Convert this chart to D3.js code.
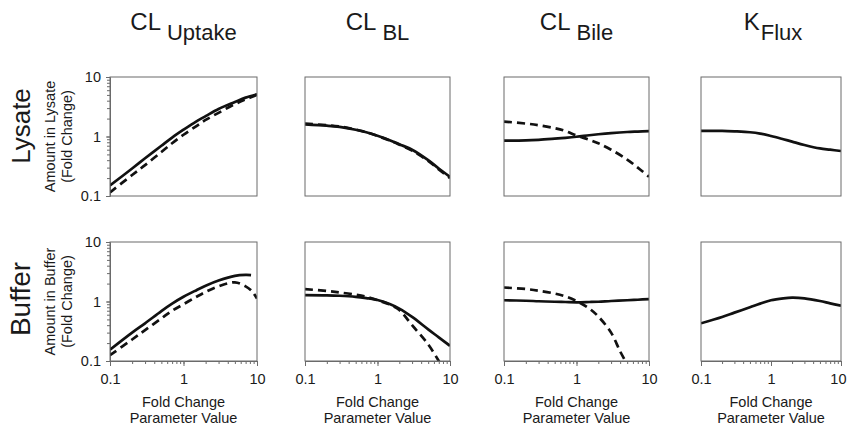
<!DOCTYPE html>
<html>
<head>
<meta charset="utf-8">
<script src="https://cdn.jsdelivr.net/npm/d3@7"></script>
<style>
body { margin: 0; background: #fff; }
svg text { font-family: "Liberation Sans", Arial, Helvetica, sans-serif; fill: #1a1a1a; }
.frame { fill: none; stroke: #6b6b6b; stroke-width: 1; }
.curve { fill: none; stroke: #111; stroke-width: 2.7; }
.dashed { stroke-dasharray: 8 5; }
.axis path, .axis line { stroke: #6b6b6b; }
</style>
</head>
<body>
<div id="chart"></div>
<script>
// column / row labels
var paramMain = ["CL", "CL", "CL", "K"];
var paramSub = ["Uptake", "BL", "Bile", "Flux"];
var rowNames = ["Lysate", "Buffer"];
var yTitles = ["Amount in Lysate", "Amount in Buffer"];
var tickMajor = [0.1, 1, 10];

// common x grid (fold change of parameter)
var xGrid = [0.1, 0.2, 0.3, 0.5, 0.7, 1, 1.5, 2, 3, 5, 7, 10];

// Lysate row
var lysUptakeSolid  = [0.15, 0.29, 0.43, 0.70, 0.96, 1.30, 1.80, 2.20, 2.90, 3.80, 4.50, 5.10];
var lysUptakeDashed = [0.115, 0.225, 0.33, 0.55, 0.77, 1.07, 1.50, 1.90, 2.50, 3.50, 4.20, 5.00];
var lysBLSolid      = [1.60, 1.52, 1.45, 1.30, 1.18, 1.03, 0.86, 0.74, 0.60, 0.40, 0.29, 0.21];
var lysBLDashed     = [1.65, 1.55, 1.47, 1.31, 1.18, 1.02, 0.85, 0.73, 0.58, 0.39, 0.28, 0.20];
var lysBileSolid    = [0.85, 0.86, 0.88, 0.92, 0.95, 0.99, 1.05, 1.09, 1.14, 1.19, 1.21, 1.23];
var lysBileDashed   = [1.78, 1.65, 1.55, 1.38, 1.24, 1.04, 0.88, 0.77, 0.60, 0.41, 0.30, 0.21];
var lysFluxSolid    = [1.24, 1.24, 1.22, 1.18, 1.12, 1.02, 0.90, 0.82, 0.72, 0.63, 0.60, 0.57];

// Buffer row
var bufUptakeSolidX  = [0.1, 0.2, 0.3, 0.5, 0.7, 1, 1.5, 2, 3, 5, 7, 8.3];
var bufUptakeSolid   = [0.155, 0.30, 0.43, 0.69, 0.92, 1.20, 1.55, 1.84, 2.25, 2.70, 2.80, 2.78];
var bufUptakeDashedX = [0.1, 0.2, 0.3, 0.5, 0.7, 1, 1.5, 2, 3, 5, 7, 8.5, 10];
var bufUptakeDashed  = [0.125, 0.23, 0.33, 0.52, 0.70, 0.90, 1.20, 1.45, 1.80, 2.10, 1.80, 1.50, 1.12];
var bufBLSolid       = [1.28, 1.27, 1.25, 1.20, 1.14, 1.06, 0.90, 0.76, 0.55, 0.34, 0.25, 0.18];
var bufBLDashedX     = [0.1, 0.2, 0.3, 0.5, 0.7, 1, 1.5, 2, 3, 5, 7, 8];
var bufBLDashed      = [1.62, 1.50, 1.42, 1.30, 1.20, 1.05, 0.88, 0.72, 0.40, 0.19, 0.10, 0.075];
var bufBileSolid     = [1.05, 1.03, 1.01, 0.99, 0.98, 0.97, 0.98, 0.99, 1.02, 1.05, 1.07, 1.10];
var bufBileDashedX   = [0.1, 0.2, 0.3, 0.5, 0.7, 1, 1.5, 2, 3, 4, 5];
var bufBileDashed    = [1.72, 1.62, 1.52, 1.36, 1.22, 1.02, 0.76, 0.56, 0.30, 0.145, 0.088];
var bufFluxSolid     = [0.43, 0.55, 0.65, 0.80, 0.92, 1.05, 1.13, 1.16, 1.13, 1.02, 0.93, 0.85];

function zip(xs, ys) {
	return xs.map(function(v, i) { return [v, ys[i]]; });
}

// panels[row][col] = list of curves
var panels = [
	[
		[{pts: zip(xGrid, lysUptakeSolid)}, {pts: zip(xGrid, lysUptakeDashed), dashed: true}],
		[{pts: zip(xGrid, lysBLDashed), dashed: true}, {pts: zip(xGrid, lysBLSolid)}],
		[{pts: zip(xGrid, lysBileSolid)}, {pts: zip(xGrid, lysBileDashed), dashed: true}],
		[{pts: zip(xGrid, lysFluxSolid)}]
	],
	[
		[{pts: zip(bufUptakeSolidX, bufUptakeSolid)}, {pts: zip(bufUptakeDashedX, bufUptakeDashed), dashed: true}],
		[{pts: zip(xGrid, bufBLSolid)}, {pts: zip(bufBLDashedX, bufBLDashed), dashed: true}],
		[{pts: zip(xGrid, bufBileSolid)}, {pts: zip(bufBileDashedX, bufBileDashed), dashed: true}],
		[{pts: zip(xGrid, bufFluxSolid)}]
	]
];

var W = 847, H = 431;
var colX = [110, 305, 504, 701];
var colW = [147, 145, 145, 140];
var rowY = [77, 242];
var panelH = 119;

var svg = d3.select("#chart").append("svg")
	.attr("width", W).attr("height", H);

var fmt = function(d) { return d < 1 ? "0.1" : String(d); };

for (var r = 0; r < 2; r++) {
	for (var c = 0; c < 4; c++) {
		drawPanel(r, c);
	}
}

function drawPanel(r, c) {
	var pw = colW[c];
	var x = d3.scaleLog().domain([0.1, 10]).range([0, pw]);
	var y = d3.scaleLog().domain([0.1, 10]).range([panelH, 0]);

	var g = svg.append("g")
		.attr("transform", "translate(" + colX[c] + "," + rowY[r] + ")");

	var clipId = "clip-" + r + "-" + c;
	g.append("clipPath").attr("id", clipId)
		.append("rect").attr("width", pw).attr("height", panelH);

	// axes with minor ticks
	if (r == 1) {
		var xMinor = d3.axisBottom(x).tickValues(x.ticks()).tickSize(3).tickFormat("");
		g.append("g").attr("class", "axis")
			.attr("transform", "translate(0," + panelH + ")")
			.call(xMinor);
		var xMajor = d3.axisBottom(x).tickValues(tickMajor).tickSize(5).tickPadding(8).tickFormat(fmt);
		var xa = g.append("g").attr("class", "axis")
			.attr("transform", "translate(0," + panelH + ")")
			.call(xMajor);
		xa.selectAll("text").style("font-size", "14.5px").attr("fill", "#1a1a1a");
		xa.select(".domain").remove();
		// last panel: the image edge is close, keep the "10" inside it
		if (c == 3) {
			xa.selectAll("text").filter(function(d) { return d == 10; })
				.attr("text-anchor", "end").attr("dx", "5");
		}

		var xt = g.append("text")
			.attr("text-anchor", "middle")
			.style("font-size", "14.5px");
		xt.append("tspan").attr("x", pw / 2).attr("y", panelH + 46).text("Fold Change");
		xt.append("tspan").attr("x", pw / 2).attr("y", panelH + 62).text("Parameter Value");
	}
	if (c == 0) {
		var yMinor = d3.axisLeft(y).tickValues(y.ticks()).tickSize(3).tickFormat("");
		g.append("g").attr("class", "axis").call(yMinor);
		var yMajor = d3.axisLeft(y).tickValues(tickMajor).tickSize(4).tickPadding(5).tickFormat(fmt);
		var ya = g.append("g").attr("class", "axis").call(yMajor);
		ya.selectAll("text").style("font-size", "14.5px").attr("fill", "#1a1a1a");
		ya.select(".domain").remove();

		// y-axis title (two lines)
		var yt = g.append("text")
			.attr("transform", "rotate(-90)")
			.attr("text-anchor", "middle")
			.style("font-size", "14.5px");
		yt.append("tspan").attr("x", -panelH / 2).attr("y", 55 - colX[0]).text(yTitles[r]);
		yt.append("tspan").attr("x", -panelH / 2).attr("y", 72 - colX[0]).text("(Fold Change)");

		// row label
		g.append("text")
			.attr("transform", "translate(" + (30 - colX[0]) + "," + (r == 0 ? 49 : 57) + ") rotate(-90)")
			.attr("text-anchor", "middle")
			.style("font-size", r == 0 ? "26px" : "28px")
			.text(rowNames[r]);
	}

	// curves
	var line = d3.line()
		.x(function(d) { return x(d[0]); })
		.y(function(d) { return y(d[1]); })
		.curve(d3.curveCatmullRom.alpha(0.5));

	g.append("g").attr("clip-path", "url(#" + clipId + ")")
		.selectAll("path")
		.data(panels[r][c]).enter()
		.append("path")
		.attr("class", function(d) { return d.dashed ? "curve dashed" : "curve"; })
		.attr("d", function(d) { return line(d.pts); });

	// frame
	g.append("rect").attr("class", "frame")
		.attr("width", pw).attr("height", panelH);

	// column title
	if (r == 0) {
		var t = g.append("text")
			.attr("x", pw / 2 + (c == 3 ? 2 : 0))
			.attr("y", 30 - rowY[0])
			.attr("text-anchor", "middle");
		t.append("tspan").style("font-size", "24px").text(paramMain[c]);
		t.append("tspan").style("font-size", "22px")
			.attr("dx", c == 3 ? 1 : 6).attr("dy", 10)
			.text(paramSub[c]);
	}
}
</script>
</body>
</html>
